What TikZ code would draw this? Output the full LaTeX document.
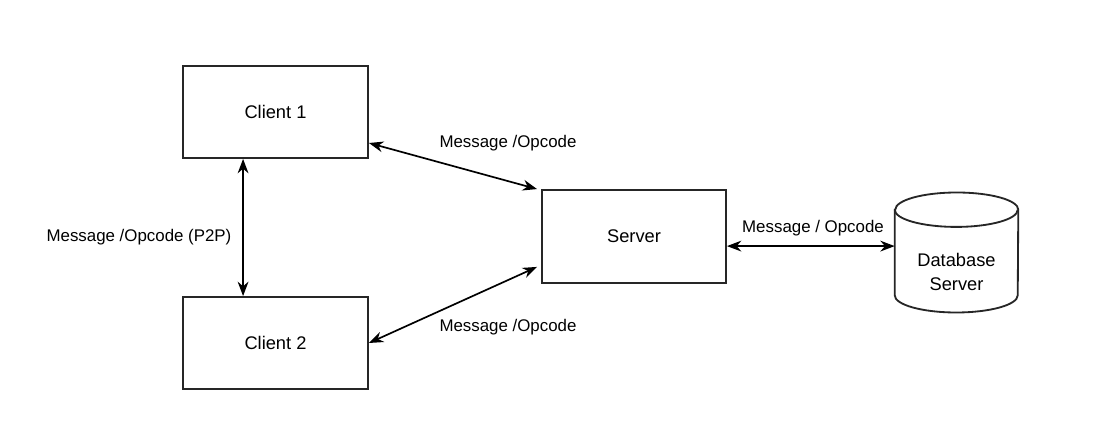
\documentclass[tikz,border=0pt]{standalone}
\usepackage{fontspec}
\setmainfont{Liberation Sans}
\usetikzlibrary{arrows.meta, positioning, calc}

\begin{document}
\begin{tikzpicture}[
  x=0.025cm, y=-0.025cm,
  box/.style={draw=black!85, line width=1.3pt, minimum width=4.625cm, minimum height=2.3cm, align=center, font=\fontsize{13}{17}\selectfont},
  lbl/.style={align=center, inner sep=1pt, font=\fontsize{12}{16.3}\selectfont},
  link/.style={line width=1.2pt, {Stealth[length=0.36cm, width=0.27cm]}-{Stealth[length=0.36cm, width=0.27cm]}}
]
  \useasboundingbox (0,0) rectangle (1113,438);

  \node[box] (client1) at (275.5, 112) {Client 1};
  \node[box] (client2) at (275.5, 343) {Client 2};
  \node[box, minimum width=4.6cm, minimum height=2.325cm] (server) at (634, 236.5) {Server};

  % database cylinder
  \node[minimum width=3.075cm, minimum height=2.125cm, inner sep=0pt] (db) at (956.5, 252.5) {};
  \draw[draw=black!85, line width=1.3pt, fill=white] (db.north west) -- (db.south west)
    arc[start angle=180, end angle=360, x radius=1.5375cm, y radius=0.43cm]
    -- (db.north east)
    arc[start angle=0, end angle=180, x radius=1.5375cm, y radius=0.43cm] -- cycle;
  \draw[draw=black!85, line width=1.3pt] (db.north west)
    arc[start angle=180, end angle=360, x radius=1.5375cm, y radius=0.43cm];
  \node[lbl, font=\fontsize{13}{17}\selectfont] (dbname) at (956.5, 272) {Database\\Server};

  % connectors
  \draw[link] ([yshift=-0.775cm]client1.east) -- ([xshift=-0.1cm]server.north west);
  \draw[link] (client2.east) -- ([xshift=-0.1cm, yshift=0.425cm]server.south west);
  \draw[link] ([xshift=1.525cm]client1.south west) -- ([xshift=1.525cm]client2.north west);
  \draw[link] ([yshift=-0.24cm]server.east) -- ([yshift=-0.24cm]server.east -| db.west);

  \node[lbl] (msg1) at (508, 143) {Message /Opcode};
  \node[lbl] (msg2) at (508, 327) {Message /Opcode};
  \node[lbl] (msgp2p) at (139, 237) {Message /Opcode (P2P)};
  \node[lbl] (msgdb) at (813, 228) {Message / Opcode};
\end{tikzpicture}
\end{document}
